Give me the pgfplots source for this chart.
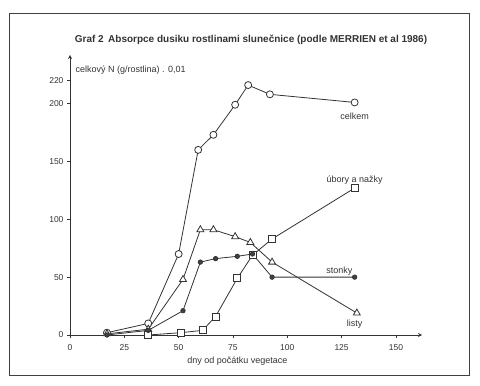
\documentclass[border=0pt]{standalone}
\usepackage{pgfplots}
\pgfplotsset{compat=1.18}
\usepackage{fontspec}
\setmainfont{Liberation Sans}
\begin{document}
\begin{tikzpicture}[x=1pt,y=1pt]
\useasboundingbox (0,0) rectangle (480,386);
\draw[line width=1pt,black!75] (9,10) rectangle (469,372);
\node[font=\fontsize{10}{12}\selectfont\bfseries,text=black!80] at (251,346) {Graf 2\, Absorpce dusiku rostlinami slunečnice (podle MERRIEN et al 1986)};
\begin{axis}[
  at={(70pt,51pt)}, anchor=south west,
  scale only axis, width=352pt, height=280pt,
  xmin=0, xmax=162, ymin=0, ymax=242,
  axis lines=left,
  axis line style={black!80, line width=0.8pt, -stealth},
  xtick={0,25,50,75,100,125,150},
  ytick={0,50,100,150,200,220},
  tick align=outside, major tick length=3pt,
  tick style={black!80, line width=0.6pt},
  ticklabel style={font=\fontsize{8.5}{10}\selectfont, text=black!80},
  /pgf/number format/assume math mode=true,
  xticklabel style={yshift=-3pt},
  clip=false,
  every axis plot/.append style={black!80, line width=0.8pt},
]
% celkem
\addplot[mark=*, mark size=3.5pt, mark options={fill=white}] coordinates {
 (17,2) (36,10) (50,70) (59,160) (66,173) (76,199) (82,216) (92,208) (131,201)};
% ubory a nazky
\addplot[mark=square*, mark size=3.5pt, mark options={fill=white}] coordinates {
 (36,0) (51,2) (61,4) (67,16) (77,49) (84,69) (93,83) (131,127)};
% listy
\addplot[mark=triangle*, mark size=4pt, mark options={fill=white}] coordinates {
 (17,1) (36,5) (52,48) (60,91) (66,91) (76,85) (83,80) (93,63) (132,19)};
% stonky
\addplot[mark=*, mark size=2.2pt, mark options={fill=black!75}] coordinates {
 (17,0) (36,4) (52,21) (60,63) (67,66) (77,68) (84,70) (93,50) (131,50)};
\node[font=\fontsize{9}{10}\selectfont, text=black!80] at (axis cs:131,189) {celkem};
\node[font=\fontsize{9}{10}\selectfont, text=black!80] at (axis cs:131,134) {úbory a nažky};
\node[font=\fontsize{9}{10}\selectfont, text=black!80] at (axis cs:124,55) {stonky};
\node[font=\fontsize{9}{10}\selectfont, text=black!80] at (axis cs:131,9) {listy};
\node[font=\fontsize{9}{10}\selectfont, text=black!80, anchor=west] at (axis cs:1,229) {celkový N (g/rostlina) . 0,01};
\node[font=\fontsize{9}{10}\selectfont, text=black!80] at (axis cs:77,-23) {dny od počátku vegetace};
\end{axis}
\end{tikzpicture}
\end{document}
